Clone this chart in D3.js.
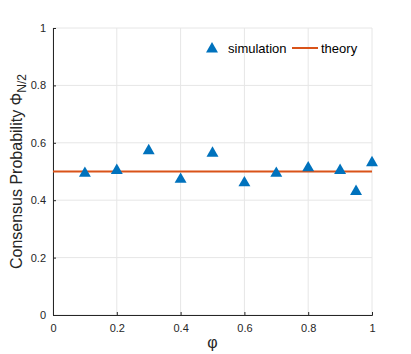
<!DOCTYPE html>
<html>
<head>
<meta charset="utf-8">
<script src="https://cdn.jsdelivr.net/npm/d3@7"></script>
<style>
  body { margin: 0; background: #fff; }
  text { font-family: "Liberation Sans", Arial, sans-serif; }
</style>
</head>
<body>
<div id="chart"></div>
<script>
var phi = [0.1, 0.2, 0.3, 0.4, 0.5, 0.6, 0.7, 0.8, 0.9, 0.95, 1.0];
var simulation = [0.497, 0.507, 0.576, 0.476, 0.567, 0.464, 0.497, 0.516, 0.507, 0.434, 0.534];
var theory = [0.5, 0.5];
var theoryX = [0, 1];
var xTicks = [0, 0.2, 0.4, 0.6, 0.8, 1];
var yTicks = [0, 0.2, 0.4, 0.6, 0.8, 1];

var W = 411, H = 354;
var margin = {top: 28, right: 39, bottom: 39, left: 53},
    width = W - margin.left - margin.right,
    height = H - margin.top - margin.bottom;

var x = d3.scaleLinear().domain([0, 1]).range([0, width]);
var y = d3.scaleLinear().domain([0, 1]).range([height, 0]);

var svg = d3.select("#chart").append("svg")
    .attr("width", W)
    .attr("height", H)
    .append("g")
    .attr("transform", "translate(" + margin.left + "," + margin.top + ")");

// grid
svg.append("g").selectAll("line")
    .data(xTicks)
    .enter().append("line")
    .attr("x1", function (d) { return x(d); })
    .attr("x2", function (d) { return x(d); })
    .attr("y1", 0).attr("y2", height)
    .style("stroke", "#e6e6e6").style("stroke-width", 1);

svg.append("g").selectAll("line")
    .data(yTicks)
    .enter().append("line")
    .attr("y1", function (d) { return y(d); })
    .attr("y2", function (d) { return y(d); })
    .attr("x1", 0).attr("x2", width)
    .style("stroke", "#e6e6e6").style("stroke-width", 1);

// axes
var xAxis = svg.append("g")
    .attr("transform", "translate(0," + height + ")")
    .call(d3.axisBottom(x).tickValues(xTicks).tickSize(-3).tickPadding(9)
        .tickFormat(function (d) { return d3.format("")(d); }));
var yAxis = svg.append("g")
    .call(d3.axisLeft(y).tickValues(yTicks).tickSize(-3).tickPadding(7)
        .tickFormat(function (d) { return d3.format("")(d); }));

[xAxis, yAxis].forEach(function (a) {
    a.select(".domain").style("stroke", "#262626");
    a.selectAll(".tick line").style("stroke", "#262626");
    a.selectAll(".tick text").style("fill", "#262626")
        .style("font-size", "11px")
        .style("font-family", "'Liberation Sans', Arial, sans-serif");
});

// theory line
var line = d3.line()
    .x(function (d, i) { return x(theoryX[i]); })
    .y(function (d) { return y(d); });

svg.append("path")
    .datum(theory)
    .attr("d", line)
    .style("fill", "none")
    .style("stroke", "#D95319")
    .style("stroke-width", 2);

// simulation markers
var tri = d3.symbol().type(d3.symbolTriangle).size(62);
svg.selectAll(".sim")
    .data(simulation)
    .enter().append("path")
    .attr("class", "sim")
    .attr("d", tri)
    .attr("transform", function (d, i) {
        return "translate(" + x(phi[i]) + "," + (y(d) + 1) + ")";
    })
    .style("fill", "#0072BD");

// axis labels
svg.append("text")
    .attr("x", width / 2)
    .attr("y", height + 33)
    .style("text-anchor", "middle")
    .style("font-size", "16px")
    .style("fill", "#262626")
    .text("φ");

var yl = svg.append("text")
    .attr("transform", "translate(" + (-31) + "," + (height / 2) + ") rotate(-90)")
    .style("text-anchor", "middle")
    .style("font-size", "16px")
    .style("fill", "#262626");
yl.append("tspan").text("Consensus Probability Φ");
yl.append("tspan").attr("dy", 4).style("font-size", "12px").text("N/2");

// legend
var lg = svg.append("g").attr("transform", "translate(" + (212 - margin.left) + "," + (48 - margin.top) + ")");
lg.append("path").attr("d", tri).attr("transform", "translate(0,1)").style("fill", "#0072BD");
lg.append("text").attr("x", 16).attr("y", 5).style("font-size", "13px").style("fill", "#000").text("simulation");
lg.append("line").attr("x1", 80).attr("x2", 106).attr("y1", 0).attr("y2", 0)
    .style("stroke", "#D95319").style("stroke-width", 2);
lg.append("text").attr("x", 109).attr("y", 5).style("font-size", "13px").style("fill", "#000").text("theory");
</script>
</body>
</html>
